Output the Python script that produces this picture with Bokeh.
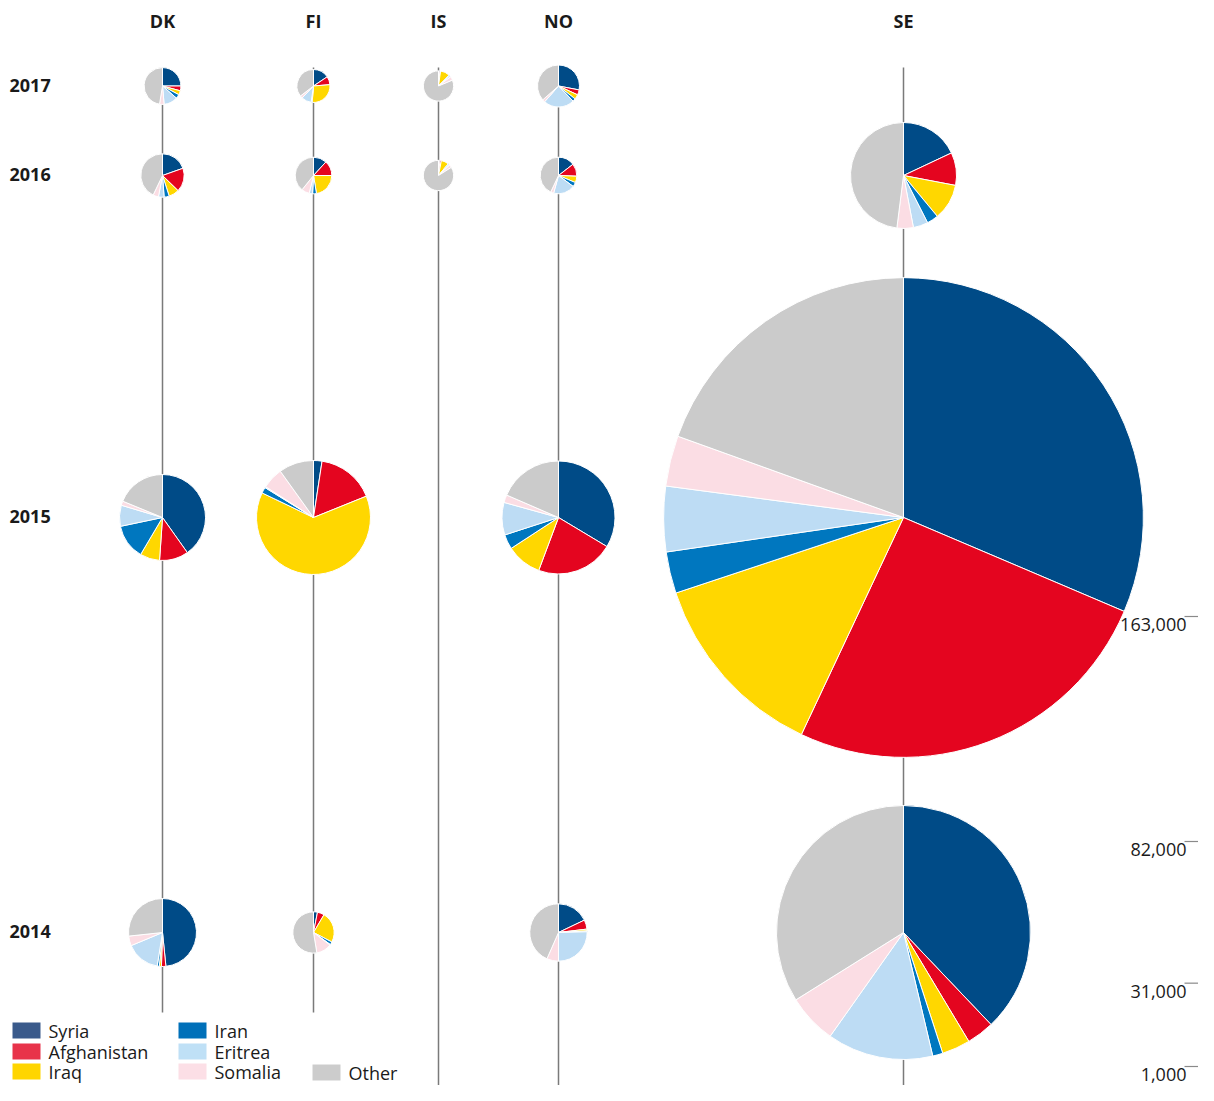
import math
from bokeh.plotting import figure
from bokeh.models import ColumnDataSource, Range1d
from bokeh.core.properties import value
from bokeh.embed import file_html
from bokeh.resources import INLINE

# ---------------- data ----------------
countries = ["DK", "FI", "IS", "NO", "SE"]
years = ["2017", "2016", "2015", "2014"]
origins = ["Syria", "Afghanistan", "Iraq", "Iran", "Eritrea", "Somalia", "Other"]
pie_colors = ["#004b87", "#e4051f", "#ffd700", "#0077bf", "#bddcf4", "#fbdde4", "#cbcbcb"]
legend_colors = ["#3a5a8b", "#e8334a", "#ffd500", "#0070b9", "#bfe0f6", "#fcdfe6", "#cccccc"]

# total asylum applicants per year (2017, 2016, 2015, 2014); None = no pie
applicants_DK = [3450, 5820, 21160, 14680]
applicants_FI = [2080, 3380, 31240, 5070]
applicants_IS = [1100, 1130, None, None]
applicants_NO = [5320, 3380, 30880, 10860]
applicants_SE = [None, 28360, 162900, 81640]

# shares (%) by origin: Syria, Afghanistan, Iraq, Iran, Eritrea, Somalia, Other
shares_DK = [
    [25.0, 4.2, 3.6, 3.6, 12.2, 4.0, 47.4],
    [19.6, 17.7, 7.7, 3.8, 4.2, 4.1, 42.9],
    [40.2, 10.9, 7.4, 13.2, 7.9, 1.6, 18.8],
    [48.4, 2.1, 1.0, 1.0, 16.2, 4.6, 26.7],
]
shares_FI = [
    [15.6, 8.1, 27.6, 1.0, 9.8, 2.5, 35.4],
    [11.8, 13.2, 22.4, 3.4, 3.0, 7.0, 39.2],
    [2.4, 16.5, 63.2, 1.7, 0.3, 6.0, 9.9],
    [3.1, 5.4, 24.1, 2.3, 0.5, 12.0, 52.6],
]
shares_IS = [
    [1.5, 0.7, 10.0, 1.0, 1.5, 4.0, 81.3],
    [1.5, 1.5, 8.0, 1.0, 1.0, 3.0, 84.0],
    None,
    None,
]
shares_NO = [
    [28.0, 3.9, 3.6, 2.3, 23.7, 2.0, 36.5],
    [14.5, 11.1, 5.7, 3.9, 19.1, 2.7, 43.0],
    [33.6, 22.1, 10.1, 4.2, 9.3, 2.2, 18.5],
    [17.9, 5.2, 1.0, 0.5, 25.4, 6.6, 43.4],
]
shares_SE = [
    None,
    [18.0, 10.0, 11.0, 3.5, 4.5, 5.0, 48.0],
    [31.4, 25.6, 12.9, 2.8, 4.4, 3.4, 19.5],
    [37.9, 3.5, 3.6, 1.3, 13.5, 6.3, 33.9],
]

scale_values = [163000, 82000, 31000, 1000]
scale_labels = ["163,000", "82,000", "31,000", "1,000"]

applicants = {"DK": applicants_DK, "FI": applicants_FI, "IS": applicants_IS,
              "NO": applicants_NO, "SE": applicants_SE}
shares = {"DK": shares_DK, "FI": shares_FI, "IS": shares_IS,
          "NO": shares_NO, "SE": shares_SE}

# ---------------- layout (image pixel coordinates, origin top-left) ----------------
W, H = 1198, 1085
IMG_H = 1101
col_x = {"DK": 162, "FI": 313, "IS": 438, "NO": 558, "SE": 903}
row_y = {"2017": 85.5, "2016": 175, "2015": 517, "2014": 932}
line_end = {"DK": 1012, "FI": 1012, "IS": 1100, "NO": 1100, "SE": 1100}
R_MIN, V_MIN, PX_PER = 15.0, 1000.0, 225.0 / 162000.0


def Y(y_img):
    return IMG_H - y_img


def radius(v):
    return R_MIN + (v - V_MIN) * PX_PER


p = figure(width=W, height=H, output_backend="svg", toolbar_location=None,
           x_range=Range1d(0, W), y_range=Range1d(IMG_H - H, IMG_H),
           min_border=0, outline_line_color=None, background_fill_color="white",
           border_fill_color="white")
p.axis.visible = False
p.grid.visible = False

FONT = value("Open Sans")
TXT = "#1a1a1a"

# vertical guide lines
p.segment(x0=[col_x[c] for c in countries], y0=[Y(67)] * len(countries),
          x1=[col_x[c] for c in countries], y1=[Y(line_end[c]) for c in countries],
          line_color="#7a7a7a", line_width=1.5)

# pies
wx, wy, wr, ws, we, wc = [], [], [], [], [], []
for c in countries:
    for i, yr in enumerate(years):
        v = applicants[c][i]
        sh = shares[c][i]
        if v is None or sh is None:
            continue
        tot = float(sum(sh))
        cum = 0.0
        r = radius(v)
        for k, s in enumerate(sh):
            if s <= 0:
                continue
            a0 = math.pi / 2 - 2 * math.pi * cum / tot
            cum += s
            a1 = math.pi / 2 - 2 * math.pi * cum / tot
            wx.append(col_x[c]); wy.append(Y(row_y[yr])); wr.append(r)
            ws.append(a0); we.append(a1); wc.append(pie_colors[k])

src = ColumnDataSource(dict(x=wx, y=wy, r=wr, s=ws, e=we, c=wc))
p.wedge(x="x", y="y", radius="r", start_angle="s", end_angle="e",
        direction="clock", fill_color="c", line_color="white", line_width=1,
        source=src)

# column headers
p.text(x=[col_x[c] for c in countries], y=[Y(20.5)] * len(countries), text=countries,
       text_font=FONT, text_font_style="bold", text_font_size="18px",
       text_align="center", text_baseline="middle", text_color=TXT)

# year labels
p.text(x=[9] * len(years), y=[Y(row_y[yr] - 1) for yr in years], text=years,
       text_font=FONT, text_font_style="bold", text_font_size="18px",
       text_align="left", text_baseline="middle", text_color=TXT)

# size scale on the right
tick_y = [1066 - (v - V_MIN) * 2 * PX_PER for v in scale_values]
p.segment(x0=[1184] * 4, y0=[Y(t) for t in tick_y], x1=[1198] * 4,
          y1=[Y(t) for t in tick_y], line_color="#8a8a8a", line_width=1.2)
p.text(x=[1186] * 4, y=[Y(t + 8) for t in tick_y], text=scale_labels,
       text_font=FONT, text_font_size="18px", text_align="right",
       text_baseline="middle", text_color=TXT)

# legend
leg_left = [12, 12, 12, 178, 178, 178, 312]
leg_y = [1030, 1051, 1071, 1030, 1051, 1071, 1072]
p.rect(x=[l + 14 for l in leg_left], y=[Y(v) for v in leg_y], width=28, height=16,
       fill_color=legend_colors, line_color=None)
p.text(x=[l + 36 for l in leg_left], y=[Y(v) for v in leg_y], text=origins,
       text_font=FONT, text_font_size="18px", text_align="left",
       text_baseline="middle", text_color=TXT)

open("out.html", "w").write(file_html(p, INLINE))
